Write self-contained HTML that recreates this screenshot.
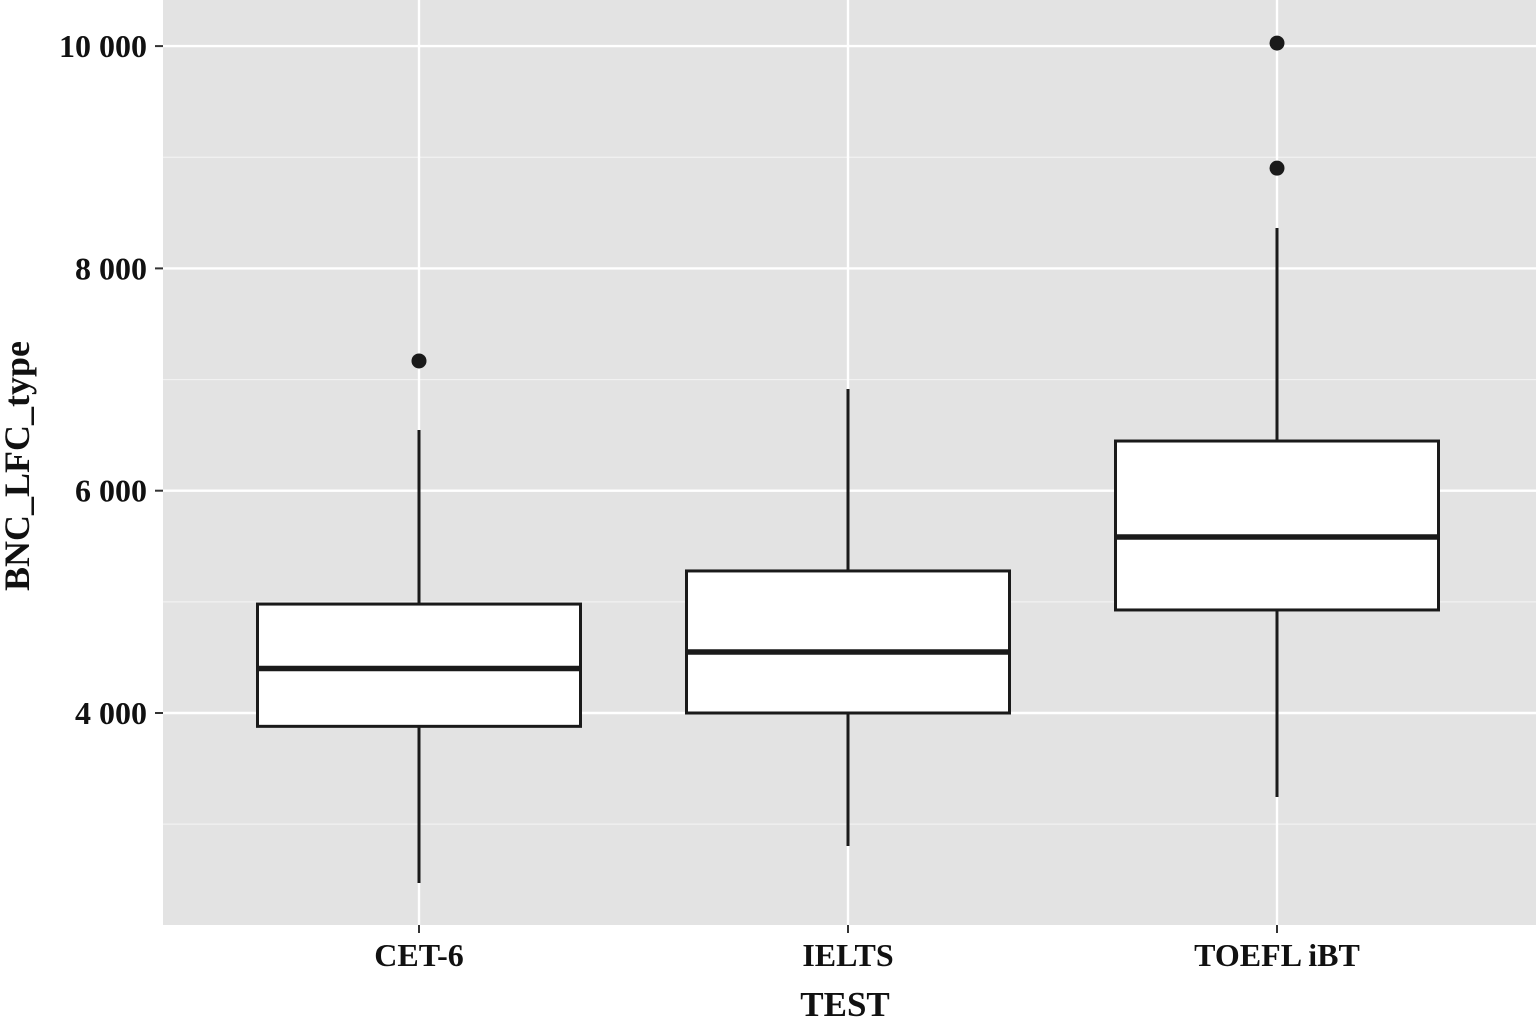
<!DOCTYPE html>
<html><head><meta charset="utf-8"><style>
body{margin:0;background:#fff}
svg{display:block;font-family:"Liberation Serif",serif;font-weight:bold}
</style></head><body>
<svg id="c" width="1536" height="1019"></svg>
<script>
const categories=["CET-6","IELTS","TOEFL iBT"];
const lowerWhisker=[2470,2803,3244];
const q1=[3880,4000,4927];
const median=[4400,4549,5583];
const q3=[4980,5278,6447];
const upperWhisker=[6546,6915,8364];
const outliers=[[7167],[],[10027,8902]];
const yTicks=[4000,6000,8000,10000];
const yTickLabels=["4 000","6 000","8 000","10 000"];
const yMinor=[3000,5000,7000,9000];

const NS="http://www.w3.org/2000/svg";
const svg=document.getElementById('c');
const L=163,R=1536,T=0,B=925;
function y(v){return 713-(v-4000)*222.3/2000;}
function x(i){return 419+i*429;}
const bw=323;
function el(t,a,p){const e=document.createElementNS(NS,t);for(const k in a)e.setAttribute(k,a[k]);(p||svg).appendChild(e);return e;}
const panel=el('rect',{x:L,y:T,width:R-L,height:B-T,fill:'#e3e3e3'});


yMinor.forEach(v=>{const g=el('line',{x1:L,x2:R,y1:y(v),y2:y(v),stroke:'#f2f2f2','stroke-width':1.2});

});
yTicks.forEach((v,i)=>{const g=el('line',{x1:L,x2:R,y1:y(v),y2:y(v),stroke:'#fff','stroke-width':2.4});


const tk=el('line',{x1:L-8,x2:L,y1:y(v),y2:y(v),stroke:'#333','stroke-width':2});


const t=el('text',{x:L-16,y:y(v)+11,'text-anchor':'end','font-size':32,fill:'#111'});t.textContent=yTickLabels[i];

});
categories.forEach((c,i)=>{const g=el('line',{x1:x(i),x2:x(i),y1:T,y2:B,stroke:'#fff','stroke-width':2.4});

});
categories.forEach((c,i)=>{
 const cx=x(i);
 const w1=el('line',{x1:cx,x2:cx,y1:y(lowerWhisker[i]),y2:y(q1[i]),stroke:'#1a1a1a','stroke-width':3});
 
 
 const w2=el('line',{x1:cx,x2:cx,y1:y(upperWhisker[i]),y2:y(q3[i]),stroke:'#1a1a1a','stroke-width':3});
 
 
 const b=el('rect',{x:cx-bw/2,y:y(q3[i]),width:bw,height:y(q1[i])-y(q3[i]),fill:'#fff',stroke:'#1a1a1a','stroke-width':3});
 
 
 const m=el('line',{x1:cx-bw/2,x2:cx+bw/2,y1:y(median[i]),y2:y(median[i]),stroke:'#1a1a1a','stroke-width':5.5});
 
 
 outliers[i].forEach(v=>{const o=el('circle',{cx:cx,cy:y(v),r:7.5,fill:'#1a1a1a'});
 
 });
 const tk=el('line',{x1:cx,x2:cx,y1:B,y2:B+8,stroke:'#333','stroke-width':2});
 
 
 const t=el('text',{x:cx,y:966,'text-anchor':'middle','font-size':32,fill:'#111'});t.textContent=c;
 
 
});
const xt=el('text',{x:845,y:1016,'text-anchor':'middle','font-size':35,fill:'#111'});xt.textContent='TEST';


const yt=el('text',{x:0,y:0,'text-anchor':'middle','font-size':36,fill:'#111',transform:'translate(29,466) rotate(-90)'});yt.textContent='BNC_LFC_type';


</script>
</body></html>
